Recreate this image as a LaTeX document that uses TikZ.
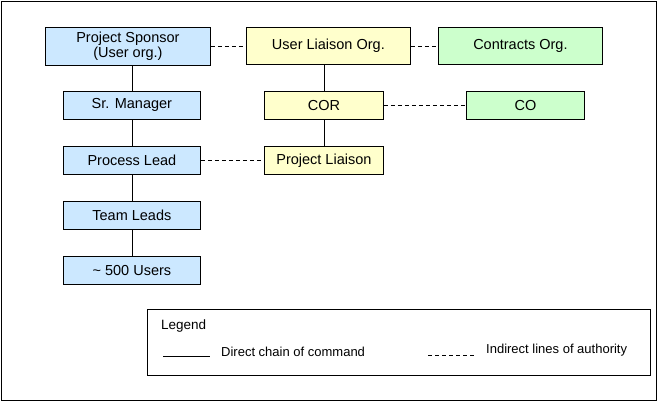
\documentclass[tikz,border=0pt]{standalone}
\usepackage{fontspec}
\setmainfont{Liberation Sans}
\begin{document}
\begin{tikzpicture}[x=1pt,y=-1pt,
  box/.style={draw, line width=0.8pt, inner sep=0pt, anchor=north west, align=center, font=\fontsize{14.5}{15.5}\selectfont},
  blue/.style={fill={rgb,255:red,204;green,232;blue,255}},
  yel/.style={fill={rgb,255:red,255;green,255;blue,204}},
  grn/.style={fill={rgb,255:red,204;green,255;blue,204}},
  solid line/.style={line width=0.8pt},
  dash line/.style={line width=0.8pt, dash pattern=on 4pt off 3pt}]
\useasboundingbox (0,0) rectangle (658,402);
\draw[line width=1pt] (1.5,1.5) rectangle (656.5,400.5);
\node[box,blue,minimum width=165pt,minimum height=38pt] (ps) at (45,27) {Project Sponsor\\(User org.)};
\node[box,yel,minimum width=164pt,minimum height=37pt] (ul) at (246,27) {User Liaison Org.};
\node[box,grn,minimum width=164pt,minimum height=37pt] (co) at (438,27) {Contracts Org.};
\node[box,blue,minimum width=137pt,minimum height=28pt] (sm) at (63,91) {Sr. Manager};
\node[box,yel,minimum width=119pt,minimum height=28pt] (cor) at (264,91) {COR};
\node[box,grn,minimum width=118pt,minimum height=28pt] (c) at (466,91) {CO};
\node[box,blue,minimum width=137pt,minimum height=28pt] (pl) at (63,146) {Process Lead};
\node[box,yel,minimum width=119pt,minimum height=28pt] (pj) at (264,146) {Project Liaison};
\node[box,blue,minimum width=137pt,minimum height=28pt] (tl) at (63,201) {Team Leads};
\node[box,blue,minimum width=137pt,minimum height=28pt] (us) at (63,256) {\textasciitilde{} 500 Users};
\draw[solid line] (sm.north |- ps.south) -- (sm.north);
\draw[solid line] (sm) -- (pl);
\draw[solid line] (pl) -- (tl);
\draw[solid line] (tl) -- (us);
\draw[solid line] (cor.north |- ul.south) -- (cor.north);
\draw[solid line] (cor) -- (pj);
\draw[dash line] (ps.east |- ul.west) -- (ul.west);
\draw[dash line] (ul) -- (co);
\draw[dash line] (cor) -- (c);
\draw[dash line] (pl) -- (pj);
% legend
\node[draw, line width=0.8pt, minimum width=503pt, minimum height=66pt, anchor=north west, inner sep=0pt] (lg) at (147,309) {};
\node[anchor=west, font=\fontsize{13.5}{15}\selectfont, inner sep=0pt] (lt) at (161,326) {Legend};
\coordinate (s1) at (163,356); \coordinate (s2) at (210,356);
\draw[solid line] (s1) -- (s2);
\node[anchor=west, font=\fontsize{13}{15}\selectfont, inner sep=0pt] (l1) at (221,352) {Direct chain of command};
\coordinate (d1) at (428,355); \coordinate (d2) at (474,355);
\draw[dash line] (d1) -- (d2);
\node[anchor=west, font=\fontsize{13}{15}\selectfont, inner sep=0pt] (l2) at (486,350) {Indirect lines of authority};
\end{tikzpicture}
\end{document}
